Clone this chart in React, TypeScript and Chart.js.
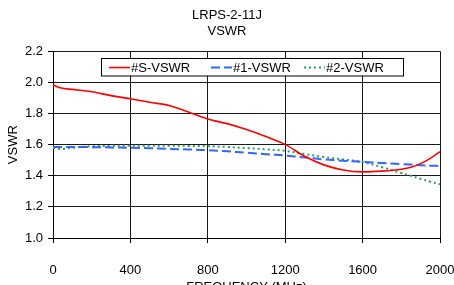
import React, { useEffect, useRef } from "react";
import { Chart, registerables } from "chart.js";

Chart.register(...registerables);

const freq = [0, 25, 50, 100, 200, 300, 400, 500, 600, 700, 800, 900, 1000, 1100, 1200, 1300, 1400, 1500, 1600, 1700, 1800, 1850, 1900, 1950, 2000];
const vswrS = [1.985, 1.97, 1.962, 1.955, 1.94, 1.915, 1.895, 1.872, 1.852, 1.81, 1.765, 1.735, 1.697, 1.652, 1.602, 1.525, 1.47, 1.437, 1.425, 1.43, 1.442, 1.455, 1.478, 1.512, 1.555];
const vswr1 = [1.585, 1.585, 1.585, 1.585, 1.584, 1.582, 1.58, 1.577, 1.573, 1.569, 1.565, 1.557, 1.548, 1.539, 1.53, 1.518, 1.505, 1.497, 1.49, 1.482, 1.475, 1.472, 1.468, 1.465, 1.463];
const vswr2 = [1.58, 1.574, 1.572, 1.58, 1.59, 1.592, 1.593, 1.593, 1.593, 1.592, 1.59, 1.585, 1.578, 1.57, 1.56, 1.54, 1.52, 1.505, 1.488, 1.455, 1.418, 1.4, 1.38, 1.362, 1.345];
const seriesNames = ["#S-VSWR", "#1-VSWR", "#2-VSWR"];
const titleLines = ["LRPS-2-11J", "VSWR"];
const xTitle = "FREQUENCY (MHz)";
const yTitle = "VSWR";

const FONT = "'Liberation Sans', Arial, sans-serif";

const pairs = (vals: number[]) => freq.map((f, i) => ({ x: f, y: vals[i] }));

const legendPlugin = {
  id: "insideLegend",
  afterDatasetsDraw(chart: any) {
    const ctx = chart.ctx;
    const area = chart.chartArea;
    const boxL = area.left + 48;
    const boxT = area.top + 7;
    const boxW = 302;
    const boxH = 17.5;
    ctx.save();
    ctx.fillStyle = "#ffffff";
    ctx.fillRect(boxL, boxT, boxW, boxH);
    ctx.strokeStyle = "#000";
    ctx.lineWidth = 1;
    ctx.strokeRect(Math.round(boxL) + 0.5, Math.round(boxT) + 0.5, boxW, boxH);
    ctx.font = "13px " + FONT;
    ctx.textBaseline = "middle";
    ctx.fillStyle = "#000";
    const starts = [boxL + 8, boxL + 110, boxL + 203];
    const cy = boxT + boxH / 2 + 0.5;
    chart.data.datasets.forEach((ds: any, i: number) => {
      const sx = starts[i];
      ctx.beginPath();
      ctx.strokeStyle = ds.borderColor;
      ctx.lineWidth = ds.borderWidth;
      ctx.setLineDash(ds.borderDash || []);
      ctx.moveTo(sx, cy);
      ctx.lineTo(sx + 21, cy);
      ctx.stroke();
      ctx.setLineDash([]);
      ctx.fillText(ds.label, sx + 22, cy + 0.5);
    });
    ctx.restore();
  },
};

export default function App() {
  const ref = useRef<HTMLCanvasElement | null>(null);
  useEffect(() => {
    if (!ref.current) return;
    const chart = new Chart(ref.current, {
      type: "line",
      data: {
        datasets: [
          { label: seriesNames[0], data: pairs(vswrS), borderColor: "#ff0000", borderWidth: 1.6, pointRadius: 0, tension: 0.4, cubicInterpolationMode: "monotone" },
          { label: seriesNames[1], data: pairs(vswr1), borderColor: "#3366ff", borderWidth: 2, borderDash: [9, 4], pointRadius: 0, tension: 0.4 },
          { label: seriesNames[2], data: pairs(vswr2), borderColor: "#339966", borderWidth: 2, borderDash: [2, 3], pointRadius: 0, tension: 0.4 },
        ],
      },
      plugins: [legendPlugin],
      options: {
        animation: false,
        responsive: false,
        events: [],
        layout: { padding: 0 },
        plugins: {
          legend: { display: false },
          tooltip: { enabled: false },
          title: {
            display: true,
            text: titleLines,
            color: "#000",
            font: { family: FONT, size: 13, weight: "normal", lineHeight: 1.3 },
            padding: { top: 6.5, bottom: 11 },
          },
        },
        scales: {
          x: {
            type: "linear",
            min: 0,
            max: 2000,
            border: { display: true, color: "#000", width: 1 },
            grid: { color: "#1a1a1a", lineWidth: 1, tickLength: 5, drawTicks: true, tickColor: "#000" },
            ticks: { stepSize: 400, color: "#000", padding: 20, maxRotation: 0, font: { family: FONT, size: 13 }, callback: (v: any) => String(v) },
            title: { display: true, text: xTitle, color: "#000", font: { family: FONT, size: 13 }, padding: { top: 0, bottom: 5 } },
            afterFit: (s: any) => {
              s.height = 62;
              s.paddingRight = 14;
              s.paddingLeft = 0;
            },
          },
          y: {
            min: 1.0,
            max: 2.2,
            border: { display: true, color: "#000", width: 1 },
            grid: { color: "#1a1a1a", lineWidth: 1, tickLength: 5, tickColor: "#000" },
            ticks: { stepSize: 0.2, color: "#000", padding: 5, font: { family: FONT, size: 13 }, callback: (v: any) => Number(v).toFixed(1) },
            title: { display: true, text: yTitle, color: "#000", font: { family: FONT, size: 13 }, padding: { top: 6, bottom: 0 } },
            afterFit: (s: any) => {
              s.width = 53;
            },
          },
        },
      },
    } as any);
    return () => chart.destroy();
  }, []);
  return (
    <div style={{ position: "fixed", left: 0, top: 0, width: 454, height: 285, overflow: "hidden", background: "#fff" }}>
      <canvas ref={ref} width={454} height={300} style={{ display: "block", width: 454, height: 300 }} />
    </div>
  );
}
